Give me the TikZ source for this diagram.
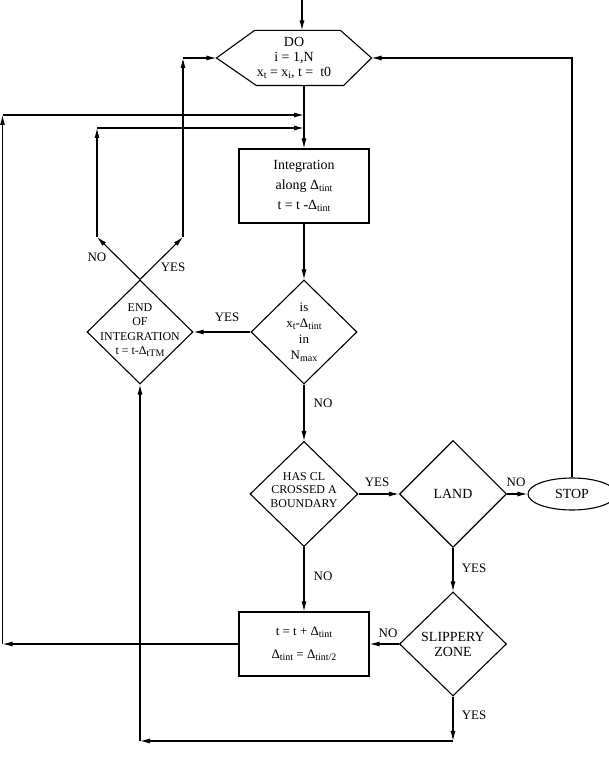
\documentclass[tikz,border=0pt]{standalone}
\usepackage{fontspec}
\setmainfont{Liberation Serif}
\usetikzlibrary{shapes.geometric,arrows.meta}
\newcommand{\lo}[1]{\raisebox{-0.3ex}{\fontsize{10}{10}\selectfont #1}}
\begin{document}
\begin{tikzpicture}[>={Latex[length=10bp,width=5bp]},line join=miter,line width=1.1bp,
  every node/.style={font=\fontsize{14}{15}\selectfont},
  box/.style={draw,rectangle,minimum width=130bp,minimum height=74bp,align=center,font=\fontsize{14}{20}\selectfont},
  decision/.style={draw,diamond,minimum width=106bp,minimum height=104bp,inner sep=0pt,align=center},
  txt/.style={align=center,inner sep=0pt},
  lbl/.style={font=\fontsize{13}{15}\selectfont,inner sep=0pt}]
%%
\useasboundingbox (0bp,0bp) rectangle (609bp,780bp);
  \node (node_do) at (294bp,722bp) [txt,minimum width=154bp,minimum height=54bp] {DO\\i = 1,N\\x\lo{t} = x\lo{i}, t =~ t0};
  \draw (node_do.west) -- ([xshift=38bp]node_do.north west) -- ([xshift=-31bp]node_do.north east) -- (node_do.east) -- ([xshift=-28bp]node_do.south east) -- ([xshift=40bp]node_do.south west) -- cycle;
  \node (node_integ) at (304bp,594bp) [box] {Integration\\along Δ\lo{tint}\\t = t -Δ\lo{tint}};
  \node (node_is) at (304bp,448bp) [decision] {};
  \node (node_is_txt) at (node_is) [txt,font=\fontsize{13}{16}\selectfont] {is\\x\lo{t}-Δ\lo{tint}\\in\\N\lo{max}};
  \node (node_end) at (140bp,448bp) [decision] {};
  \node (node_end_txt) at ([yshift=2bp]node_end) [txt,font=\fontsize{12}{14.5}\selectfont] {END\\OF\\INTEGRATION\\t = t-Δ\lo{tTM}};
  \node (node_has) at (304bp,286bp) [decision,minimum width=108bp,minimum height=105bp] {};
  \node (node_has_txt) at ([yshift=4bp]node_has) [txt,font=\fontsize{12}{13.5}\selectfont] {HAS CL\\CROSSED A\\BOUNDARY};
  \node (node_land) at (453bp,286bp) [decision,minimum width=107bp,minimum height=107bp] {LAND};
  \node (node_stop) at (572bp,286bp) [draw,ellipse,minimum width=88bp,minimum height=32bp,inner sep=0pt] {STOP};
  \node (node_slip) at (453bp,136bp) [decision,minimum width=107bp] {SLIPPERY\\ZONE};
  \node (node_halve) at (304bp,136bp) [box,minimum height=64bp,font=\fontsize{13}{23}\selectfont] {t = t + Δ\lo{tint}\\Δ\lo{tint} = Δ\lo{tint/2}};
%
  \coordinate (top_in) at (302bp,780bp);
  \coordinate (no_turn) at (97bp,543bp);
  \coordinate (no_top) at (97bp,652bp);
  \coordinate (yes_turn) at (183bp,543bp);
  \coordinate (yes_top) at (183bp,722bp);
  \coordinate (left_foot) at (2.5bp,136bp);
  \coordinate (left_top) at (2.5bp,665bp);
  \coordinate (slip_foot) at (453bp,39bp);
  \coordinate (end_foot) at (140bp,39bp);
%
  \draw [->] (top_in) -- (top_in |- node_do.north);
  \draw [->] (node_do.south -| node_integ) -- (node_integ.north);
  \draw [->] (node_integ.south) -- (node_is.north);
  \draw [->] (node_is.west) -- (node_end.east);
  \draw [->] (node_is.south) -- (node_has.north);
  \draw [->] (node_has.east) -- (node_land.west);
  \draw [->] (node_land.east) -- (node_stop.west);
  \draw [->] (node_has.south) -- (node_halve.north);
  \draw [->] (node_land.south) -- (node_slip.north);
  \draw [->] (node_slip.west) -- (node_halve.east);
  \draw [->] (node_stop.north) -- (node_stop.north |- node_do.east) -- (node_do.east);
  \draw [->] (node_end.north) -- (no_turn);
  \draw [->] (node_end.north) -- (yes_turn);
  \draw [->] (no_turn) -- (no_top);
  \draw [->] (no_top) -- (no_top -| node_integ);
  \draw [->] (yes_turn) -- (yes_top);
  \draw [->] (yes_top) -- (node_do.west);
  \draw [->] (node_halve.west) -- (left_foot);
  \draw [->] (left_foot) -- (left_top);
  \draw [->] (left_top) -- (left_top -| node_integ);
  \draw [->] (node_slip.south) -- (slip_foot);
  \draw [->] (slip_foot) -- (end_foot);
  \draw [->] (end_foot) -- (node_end.south);
%
  \node (lbl_is_yes) at (227bp,463bp) [lbl] {YES};
  \node (lbl_end_no) at (97bp,523bp) [lbl] {NO};
  \node (lbl_end_yes) at (173bp,513bp) [lbl] {YES};
  \node (lbl_is_no) at (323bp,377bp) [lbl] {NO};
  \node (lbl_has_yes) at (377bp,298bp) [lbl] {YES};
  \node (lbl_land_no) at (516bp,298bp) [lbl] {NO};
  \node (lbl_has_no) at (323bp,204bp) [lbl] {NO};
  \node (lbl_land_yes) at (474bp,212bp) [lbl] {YES};
  \node (lbl_slip_no) at (388bp,147bp) [lbl] {NO};
  \node (lbl_slip_yes) at (474bp,65bp) [lbl] {YES};
%
\end{tikzpicture}
\end{document}
